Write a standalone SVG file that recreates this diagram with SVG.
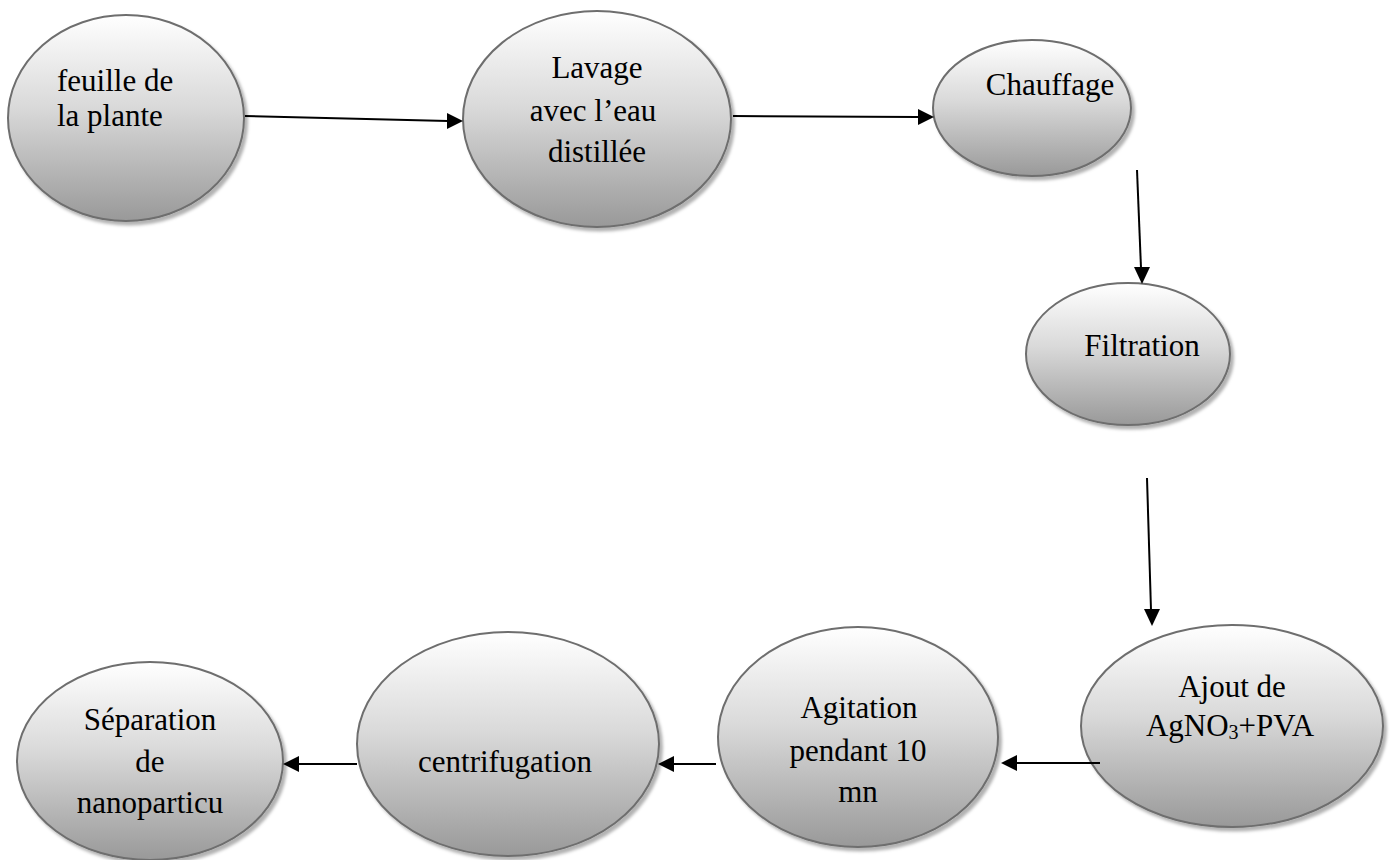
<svg xmlns="http://www.w3.org/2000/svg" width="1391" height="860" viewBox="0 0 1391 860">
<defs>
<linearGradient id="g" x1="0" y1="0" x2="0" y2="1">
<stop offset="0" stop-color="#ffffff"/>
<stop offset="0.45" stop-color="#d9d9d9"/>
<stop offset="1" stop-color="#999999"/>
</linearGradient>
<filter id="sh" x="-10%" y="-10%" width="125%" height="125%">
<feDropShadow dx="3" dy="3.5" stdDeviation="1.5" flood-color="#000" flood-opacity="0.3"/>
</filter>
</defs>
<style>
.n{fill:url(#g);stroke:#6e6e6e;stroke-width:2;filter:url(#sh)}
.t{font-family:"Liberation Serif","Times New Roman",serif;font-size:31px;fill:#000}
.l{stroke:#000;stroke-width:2;fill:none}
.h{fill:#000}
</style>
<rect width="1391" height="860" fill="#fff"/>
<g id="n1"><ellipse class="n" cx="126" cy="118" rx="118" ry="103"/>
<text class="t" x="57" y="91">feuille de</text><text class="t" x="57" y="126">la plante</text></g>
<g id="n2"><ellipse class="n" cx="597" cy="119" rx="134" ry="108"/>
<text class="t" text-anchor="middle" x="597" y="78">Lavage</text><text class="t" text-anchor="middle" x="593" y="121">avec l’eau</text><text class="t" text-anchor="middle" x="597" y="162">distillée</text></g>
<g id="n3"><ellipse class="n" cx="1032" cy="108" rx="99" ry="68"/>
<text class="t" text-anchor="middle" x="1050" y="95">Chauffage</text></g>
<g id="n4"><ellipse class="n" cx="1128" cy="354" rx="102" ry="71"/>
<text class="t" text-anchor="middle" x="1142" y="356">Filtration</text></g>
<g id="n5"><ellipse class="n" cx="1232" cy="726" rx="151" ry="101"/>
<text class="t" text-anchor="middle" x="1232" y="697">Ajout de</text><text class="t" text-anchor="middle" x="1230" y="736">AgNO<tspan font-size="20" dy="3">3</tspan><tspan dy="-3">+PVA</tspan></text></g>
<g id="n6"><ellipse class="n" cx="858" cy="737" rx="140" ry="110"/>
<text class="t" text-anchor="middle" x="859" y="718">Agitation</text><text class="t" text-anchor="middle" x="858" y="761">pendant 10</text><text class="t" text-anchor="middle" x="858" y="802">mn</text></g>
<g id="n7"><ellipse class="n" cx="508" cy="744" rx="151" ry="112"/>
<text class="t" text-anchor="middle" x="505" y="772">centrifugation</text></g>
<g id="n8"><ellipse class="n" cx="150" cy="761" rx="133" ry="99"/>
<text class="t" text-anchor="middle" x="150" y="730">Séparation</text><text class="t" text-anchor="middle" x="150" y="772">de</text><text class="t" text-anchor="middle" x="150" y="813">nanoparticu</text></g>
<g id="connectors">
<line class="l" x1="245" y1="116" x2="448" y2="121"/>
<path class="h" d="M447,113 L463,121 L447,129 Z"/>
<line class="l" x1="733" y1="116" x2="918" y2="117"/>
<path class="h" d="M918,109 L934,117 L918,125 Z"/>
<line class="l" x1="1137" y1="170" x2="1141" y2="268"/>
<path class="h" d="M1134,267 L1142,284 L1150,267 Z"/>
<line class="l" x1="1147" y1="478" x2="1151" y2="610"/>
<path class="h" d="M1144,609 L1152,626 L1160,609 Z"/>
<line class="l" x1="1100" y1="763" x2="1016" y2="763"/>
<path class="h" d="M1017,755 L1001,763 L1017,771 Z"/>
<line class="l" x1="716" y1="764" x2="673" y2="764"/>
<path class="h" d="M674,756 L658,764 L674,772 Z"/>
<line class="l" x1="357" y1="764" x2="298" y2="764"/>
<path class="h" d="M299,756 L283,764 L299,772 Z"/>
</g>
</svg>
